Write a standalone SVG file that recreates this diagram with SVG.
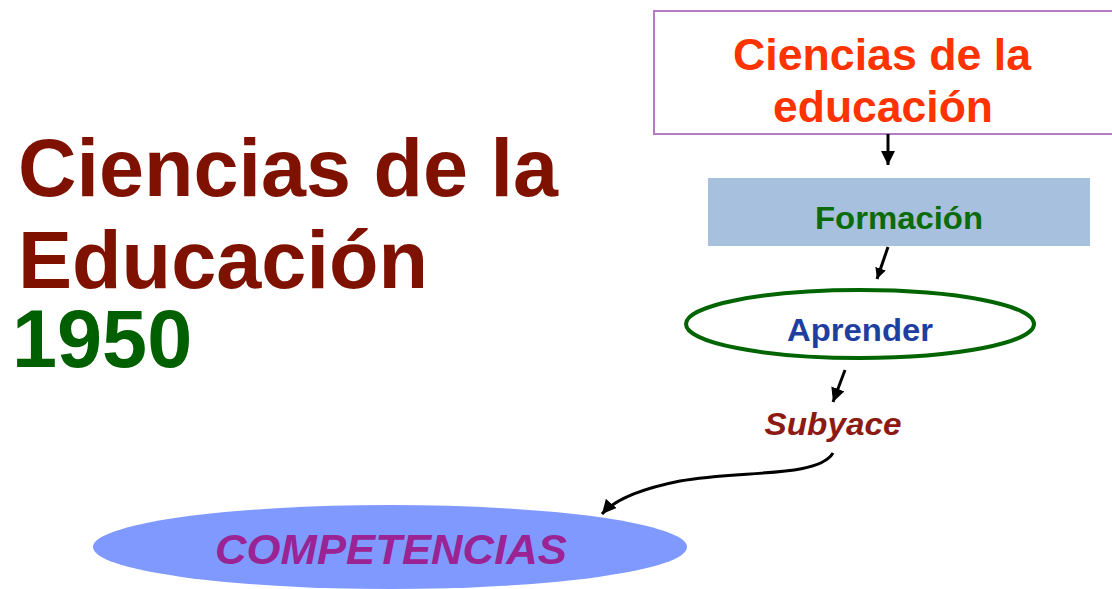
<svg xmlns="http://www.w3.org/2000/svg" width="1112" height="589" viewBox="0 0 1112 589">
<style>
  text { font-family: "Liberation Sans", Arial, sans-serif; font-weight: bold; }
  .title { font-size: 81px; fill: #7F1100; }
  .year { font-size: 81px; fill: #006000; }
  .top { font-size: 45px; fill: #FF3300; }
  .conn { fill: none; stroke: #000; stroke-width: 3; }
</style>
<defs>
  <marker id="ah" viewBox="0 0 10 10" refX="10" refY="5" markerUnits="userSpaceOnUse" markerWidth="14" markerHeight="14" orient="auto">
    <path d="M0,0 L10,5 L0,10 z" fill="#000"/>
  </marker>
  <marker id="ahs" viewBox="0 0 10 10" refX="10" refY="5" markerUnits="userSpaceOnUse" markerWidth="11" markerHeight="11" orient="auto">
    <path d="M0,0 L10,5 L0,10 z" fill="#000"/>
  </marker>
</defs>
<rect width="1112" height="589" fill="#fff"/>

<g id="title">
  <text class="title" x="18" y="196" textLength="540" lengthAdjust="spacingAndGlyphs">Ciencias de la</text>
  <text class="title" x="18" y="288" textLength="410" lengthAdjust="spacingAndGlyphs">Educación</text>
  <text class="year" x="12" y="367">1950</text>
</g>

<g id="node-ciencias">
  <rect x="654" y="11" width="470" height="123" fill="#fff" stroke="#B47CC2" stroke-width="2"/>
  <text class="top" x="882" y="70" text-anchor="middle" textLength="298" lengthAdjust="spacingAndGlyphs">Ciencias de la</text>
  <text class="top" x="883" y="122" text-anchor="middle" textLength="220" lengthAdjust="spacingAndGlyphs">educación</text>
</g>

<g id="node-formacion">
  <rect x="708" y="178" width="382" height="68" fill="#A7C0DD"/>
  <text x="899" y="229" text-anchor="middle" font-size="31" fill="#0B6B0B" textLength="168" lengthAdjust="spacingAndGlyphs">Formación</text>
</g>

<g id="node-aprender">
  <ellipse cx="860" cy="324" rx="174" ry="34" fill="#fff" stroke="#006400" stroke-width="4"/>
  <text x="860" y="341" text-anchor="middle" font-size="31" fill="#1F3FA0" textLength="146" lengthAdjust="spacingAndGlyphs">Aprender</text>
</g>

<g id="node-subyace">
  <text x="833" y="435" text-anchor="middle" font-size="31" font-style="italic" fill="#8B1A12" textLength="137" lengthAdjust="spacingAndGlyphs">Subyace</text>
</g>

<g id="node-competencias">
  <ellipse cx="390" cy="547" rx="297" ry="42" fill="#7F99FF"/>
  <text x="391" y="564" text-anchor="middle" font-size="43" font-style="italic" fill="#9B2393" textLength="352" lengthAdjust="spacingAndGlyphs">COMPETENCIAS</text>
</g>

<g id="connectors">
  <line class="conn" x1="888" y1="134" x2="888" y2="165" stroke-width="4" marker-end="url(#ah)"/>
  <line class="conn" x1="888" y1="247" x2="877" y2="279" stroke-width="2.5" marker-end="url(#ahs)"/>
  <line class="conn" x1="845" y1="370" x2="833" y2="402" marker-end="url(#ah)"/>
  <path class="conn" d="M833,453 C818,478 740,470 680,481 C640,489 615,499 602,514" marker-end="url(#ah)"/>
</g>
</svg>
